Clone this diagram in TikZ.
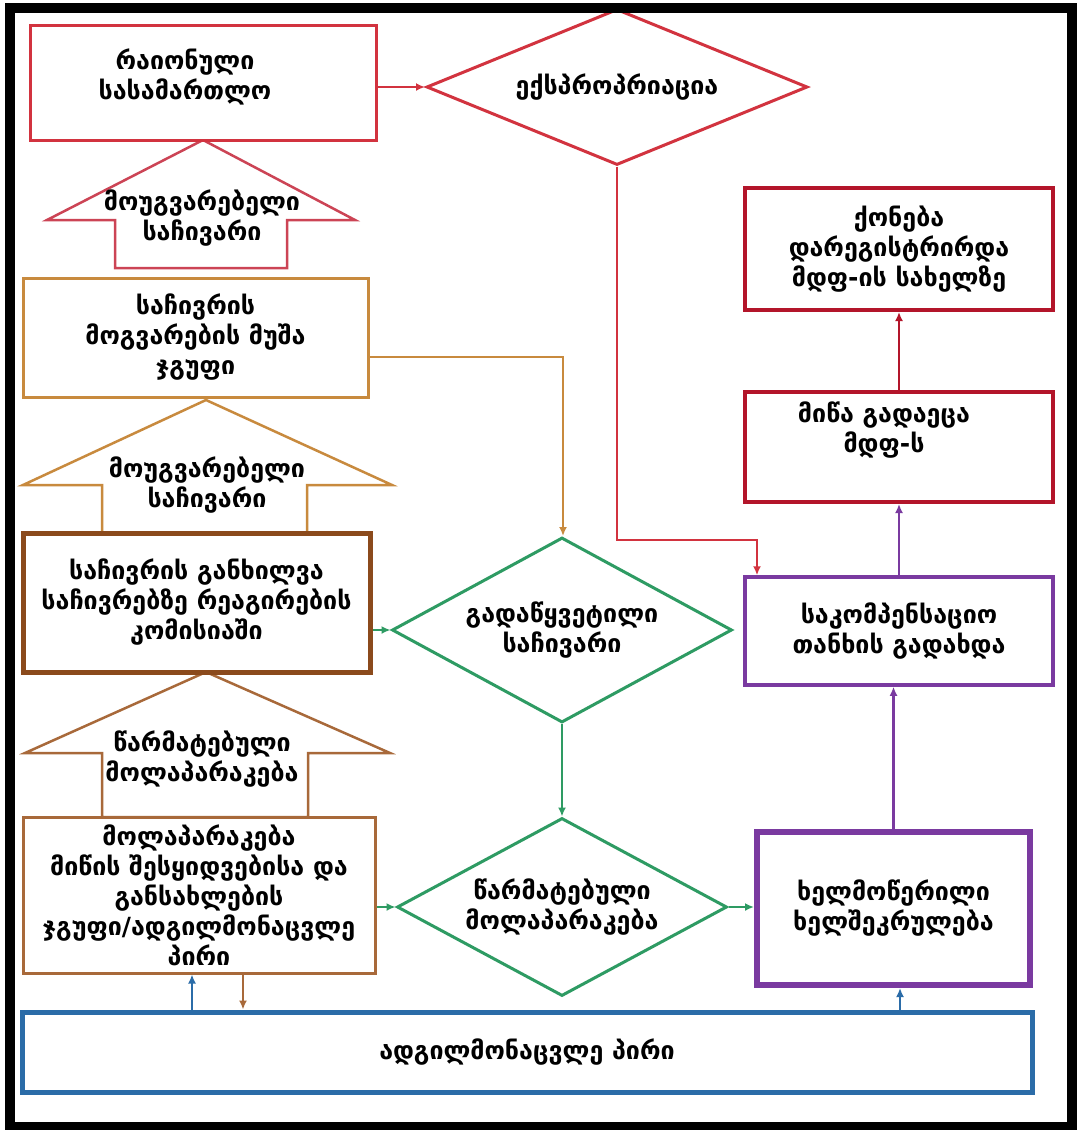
\documentclass[tikz,border=0pt]{standalone}
\usepackage{fontspec}
\newfontfamily\geo{DejaVu Sans}
\usetikzlibrary{shapes.geometric,arrows.meta,calc}
\definecolor{cred}{HTML}{D2333F}
\definecolor{cpink}{HTML}{CC4455}
\definecolor{corange}{HTML}{C88A3E}
\definecolor{cbrown}{HTML}{8B4A1C}
\definecolor{cbror}{HTML}{A8693A}
\definecolor{cgreen}{HTML}{2E9B63}
\definecolor{cpurple}{HTML}{7A3AA0}
\definecolor{cdred}{HTML}{B3152A}
\definecolor{cblue}{HTML}{2B6CA8}
\begin{document}
\begin{tikzpicture}[x=1pt,y=-1pt,
  every node/.style={font=\geo\bfseries\fontsize{25}{30}\selectfont},
  box/.style={draw, rectangle, fill=white, align=center, inner sep=0pt},
  dia/.style={draw, diamond, fill=white, align=center, inner sep=0pt},
  txt/.style={align=center, inner sep=0pt},
  conn/.style={line width=2.5pt, -{Latex[length=9pt,width=8pt]}},
  bigarrow/.style={line width=2.5pt, fill=white, line join=miter},
]
\useasboundingbox (0,0) rectangle (1079,1130);
\fill[white] (0,0) rectangle (1079,1130);

% block arrows
\draw[bigarrow, draw=cpink] (203,140) -- (355,220) -- (287,220) -- (287,268) -- (115,268) -- (115,220) -- (47,220) -- cycle;
\node[txt] (a1) at (202,218) {მოუგვარებელი\\საჩივარი};
\draw[bigarrow, draw=corange] (206,400) -- (392,485) -- (307,485) -- (307,533) -- (102,533) -- (102,485) -- (23,485) -- cycle;
\node[txt] (a2) at (207,485) {მოუგვარებელი\\საჩივარი};
\draw[bigarrow, draw=cbror] (206,672) -- (390,753) -- (308,753) -- (308,817) -- (102,817) -- (102,753) -- (25,753) -- cycle;
\node[txt] (a3) at (202,759) {წარმატებული\\მოლაპარაკება};

% boxes
\node[box, draw=cred, line width=3pt, minimum width=346pt, minimum height=115pt] (court) at (203,82.5) {};
\node[txt] (courttxt) at (185,77) {რაიონული\\სასამართლო};
\node[dia, draw=cred, line width=3pt, aspect=2.44, minimum width=381pt, minimum height=156pt] (expr) at (617,87) {ექსპროპრიაცია};
\node[box, draw=cdred, line width=4pt, minimum width=308pt, minimum height=122pt] (prop) at (899,249) {ქონება\\დარეგისტრირდა\\მდფ-ის სახელზე};
\node[box, draw=cdred, line width=4pt, minimum width=308pt, minimum height=110pt] (land) at (899,447) {};
\node[txt] (landtxt) at (884,430) {მიწა გადაეცა\\მდფ-ს};
\node[box, draw=corange, line width=3pt, minimum width=345pt, minimum height=119pt] (wg) at (195.5,337.5) {საჩივრის\\მოგვარების მუშა\\ჯგუფი};
\node[box, draw=cbrown, line width=5pt, minimum width=347pt, minimum height=139pt] (comm) at (196.5,602.5) {საჩივრის განხილვა\\საჩივრებზე რეაგირების\\კომისიაში};
\node[dia, draw=cgreen, line width=3pt, aspect=1.84, minimum width=340pt, minimum height=185pt] (resolved) at (562,630) {გადაწყვეტილი\\საჩივარი};
\node[box, draw=cbror, line width=3pt, minimum width=352pt, minimum height=156pt] (neg) at (199,895) {მოლაპარაკება\\მიწის შესყიდვებისა და\\განსახლების\\ჯგუფი/ადგილმონაცვლე\\პირი};
\node[dia, draw=cgreen, line width=3pt, aspect=1.85, minimum width=330pt, minimum height=178pt] (succ) at (562,907) {წარმატებული\\მოლაპარაკება};
\node[box, draw=cpurple, line width=3.5pt, minimum width=308pt, minimum height=108pt] (pay) at (899,631) {საკომპენსაციო\\თანხის გადახდა};
\node[box, draw=cpurple, line width=6pt, minimum width=273pt, minimum height=153pt] (signed) at (893.5,908.5) {ხელმოწერილი\\ხელშეკრულება};
\node[box, draw=cblue, line width=5pt, minimum width=1010pt, minimum height=80pt] (person) at (527,1052) {ადგილმონაცვლე პირი};

% connectors
\draw[conn, cred] (expr.west -| court.east) -- (expr.west);
\coordinate (c1) at (757,540);
\draw[conn, cred] (expr.south) |- (c1) -- (c1 |- pay.north);
\coordinate (c2) at (563,357);
\draw[conn, corange] (c2 -| wg.east) -- (c2) -- (c2 |- resolved.north);
\draw[conn, cgreen] (resolved.west -| comm.east) -- (resolved.west);
\draw[conn, cgreen] (resolved.south) -- (succ.north);
\draw[conn, cgreen] (succ.west -| neg.east) -- (succ.west);
\draw[conn, cgreen] (succ.east) -- (succ.east -| signed.west);
\draw[conn, cpurple] (signed.north) -- (signed.north |- pay.south);
\draw[conn, cpurple] (pay.north) -- (land.south);
\draw[conn, cdred] (land.north) -- (prop.south);
\coordinate (b1) at (192,1012);
\coordinate (b2) at (243,1012);
\coordinate (b3) at (900,1012);
\draw[conn, cblue] (b1 |- person.north) -- (b1 |- neg.south);
\draw[conn, cbror] (b2 |- neg.south) -- (b2 |- person.north);
\draw[conn, cblue] (b3 |- person.north) -- (b3 |- signed.south);

% frame
\draw[line width=10pt] (10,8) rectangle (1071.5,1127);
\end{tikzpicture}
\end{document}
